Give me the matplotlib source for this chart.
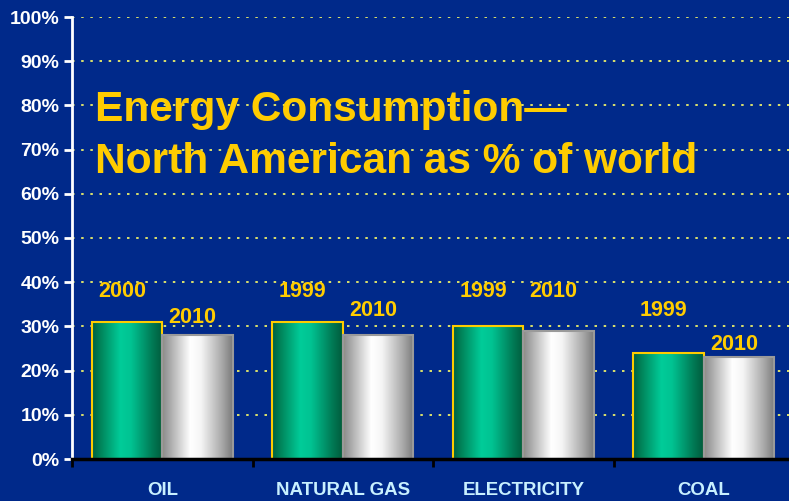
import numpy as np
import matplotlib
matplotlib.use("Agg")
import matplotlib.pyplot as plt
from matplotlib.colors import LinearSegmentedColormap

# data
categories = ["OIL", "NATURAL GAS", "ELECTRICITY", "COAL"]
first_year = ["2000", "1999", "1999", "1999"]
first_vals = [31, 31, 30, 24]
second_year = ["2010", "2010", "2010", "2010"]
second_vals = [28, 28, 29, 23]

# where the year labels sit (in %)
first_lab_y = [38, 38, 38, 33.5]
second_lab_y = [32, 33.5, 38, 26]

bg = "#00298A"
yellow = "#FFCC00"

plt.rcParams['font.family'] = ['Liberation Sans', 'DejaVu Sans']

fig = plt.figure(figsize=(7.89, 5.01), dpi=100)
fig.patch.set_facecolor(bg)
ax = fig.add_axes([72/789, 42/501, 722/789, 442/501])
ax.set_facecolor(bg)

green_cm = LinearSegmentedColormap.from_list(
    "g", [(0, "#005F40"), (0.12, "#00845A"), (0.4, "#00CC99"), (0.55, "#00C392"),
          (0.85, "#007A55"), (1, "#005A3C")])
white_cm = LinearSegmentedColormap.from_list(
    "w", [(0, "#8A8A8A"), (0.15, "#B5B5B5"), (0.4, "#FFFFFF"), (0.55, "#F5F5F5"),
          (0.85, "#A8A8A8"), (1, "#7A7A7A")])
grad = np.linspace(0, 1, 256).reshape(1, -1)

x = np.arange(len(categories))
w = 0.39
b1 = ax.bar(x - w/2, first_vals, w, facecolor="none", edgecolor=yellow, linewidth=1.5, zorder=3)
b2 = ax.bar(x + w/2, second_vals, w, facecolor="none", edgecolor="#9A9A9A", linewidth=1.5, zorder=3)

for bars, cm in [(b1, green_cm), (b2, white_cm)]:
    for r in bars:
        x0, y0 = r.get_x(), r.get_y()
        im = ax.imshow(grad, cmap=cm, extent=[x0, x0 + r.get_width(), y0, y0 + r.get_height()],
                       aspect="auto", zorder=2)
        im.set_clip_path(r)

nudge = -0.028
for i in range(len(categories)):
    ax.text(x[i] - w/2 + nudge, first_lab_y[i], first_year[i], color=yellow, fontsize=15.5,
            fontweight="bold", ha="center", va="center", zorder=4)
    ax.text(x[i] + w/2 + nudge, second_lab_y[i], second_year[i], color=yellow, fontsize=15.5,
            fontweight="bold", ha="center", va="center", zorder=4)

ax.set_xlim(-0.5, len(categories) - 0.5)
ax.set_ylim(0, 100)
ax.set_yticks(np.arange(0, 101, 10))
ax.set_yticklabels([f"{v}%" for v in range(0, 101, 10)], color="white",
                   fontsize=14, fontweight="bold")
ax.yaxis.grid(True, color="#FFFF66", linestyle=(0, (1.5, 4)), linewidth=1.2)
ax.set_axisbelow(True)

ax.set_xticks(np.arange(-0.5, len(categories), 1))
ax.set_xticklabels([])
ax.tick_params(axis="x", colors="black", length=6, width=2, direction="out")
ax.tick_params(axis="y", colors="white", length=6, width=2, pad=3)
for i, c in enumerate(categories):
    ax.text(x[i], -7.2, c, color="#C8F0FF", fontsize=13.4, fontweight="bold",
            ha="center", va="center", clip_on=False)

for s in ["top", "right"]:
    ax.spines[s].set_visible(False)
ax.spines["left"].set_color("white")
ax.spines["left"].set_linewidth(2)
ax.spines["bottom"].set_color("black")
ax.spines["bottom"].set_linewidth(2.5)
ax.spines["bottom"].set_zorder(5)

fig.text(95/789, 1 - 110/501, "Energy Consumption\u2014", color=yellow, fontsize=30.6,
         fontweight="bold", ha="left", va="center")
fig.text(95/789, 1 - 162/501, "North American as % of world", color=yellow, fontsize=30.6,
         fontweight="bold", ha="left", va="center")

fig.savefig("out.png", dpi=100, facecolor=bg)
